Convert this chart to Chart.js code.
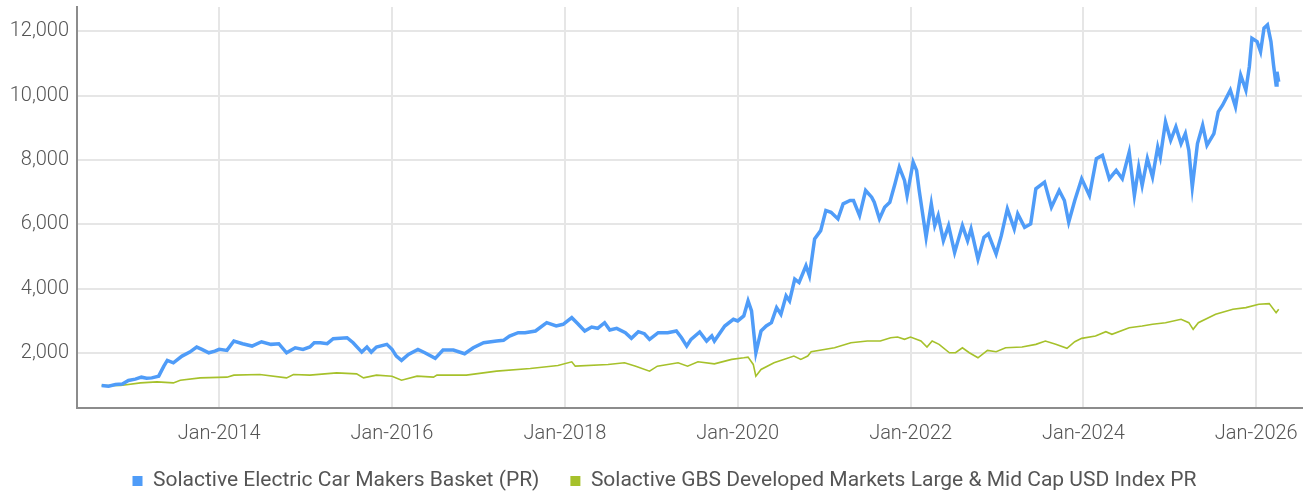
<!DOCTYPE html>
<html>
<head>
<meta charset="utf-8">
<script src="https://cdn.jsdelivr.net/npm/chart.js@4.4.1/dist/chart.umd.min.js"></script>
<style>
  html, body { margin: 0; padding: 0; background: #fff; }
  #wrap { width: 1312px; height: 493px; }
</style>
</head>
<body>
<div id="wrap"><canvas id="chart"></canvas></div>
<script>
// Solactive Electric Car Makers Basket (PR), decimal years
const evYears = [
  2012.64, 2012.72, 2012.80, 2012.88, 2012.95, 2013.03, 2013.10, 2013.16, 2013.22, 2013.30,
  2013.36, 2013.40, 2013.47, 2013.57, 2013.66, 2013.74, 2013.80, 2013.88, 2013.95, 2014.00,
  2014.09, 2014.17, 2014.27, 2014.38, 2014.49, 2014.60, 2014.69, 2014.78, 2014.88, 2014.97,
  2015.05, 2015.10, 2015.17, 2015.25, 2015.32, 2015.48, 2015.55, 2015.65, 2015.71, 2015.76,
  2015.82, 2015.94, 2016.00, 2016.05, 2016.11, 2016.19, 2016.30, 2016.38, 2016.50, 2016.59,
  2016.71, 2016.84, 2016.94, 2017.06, 2017.21, 2017.29, 2017.36, 2017.46, 2017.54, 2017.66,
  2017.79, 2017.90, 2017.98, 2018.08, 2018.15, 2018.23, 2018.31, 2018.38, 2018.46, 2018.52,
  2018.60, 2018.70, 2018.77, 2018.85, 2018.92, 2018.98, 2019.08, 2019.19, 2019.29, 2019.35,
  2019.41, 2019.46, 2019.56, 2019.64, 2019.70, 2019.73, 2019.85, 2019.95, 2020.00, 2020.07,
  2020.12, 2020.16, 2020.21, 2020.27, 2020.33, 2020.39, 2020.45, 2020.50, 2020.56, 2020.60,
  2020.66, 2020.71, 2020.79, 2020.83, 2020.89, 2020.96, 2021.02, 2021.08, 2021.16, 2021.22,
  2021.30, 2021.34, 2021.41, 2021.48, 2021.55, 2021.58, 2021.64, 2021.70, 2021.76, 2021.82,
  2021.87, 2021.93, 2021.96, 2022.03, 2022.07, 2022.10, 2022.18, 2022.24, 2022.28, 2022.32,
  2022.38, 2022.44, 2022.51, 2022.60, 2022.66, 2022.70, 2022.78, 2022.85, 2022.90, 2022.99,
  2023.05, 2023.12, 2023.20, 2023.24, 2023.32, 2023.39, 2023.45, 2023.55, 2023.63, 2023.72,
  2023.78, 2023.83, 2023.90, 2023.98, 2024.07, 2024.15, 2024.22, 2024.30, 2024.38, 2024.45,
  2024.53, 2024.59, 2024.64, 2024.68, 2024.74, 2024.80, 2024.86, 2024.89, 2024.95, 2025.01,
  2025.07, 2025.13, 2025.18, 2025.22, 2025.26, 2025.32, 2025.38, 2025.43, 2025.51, 2025.56,
  2025.61, 2025.65, 2025.70, 2025.76, 2025.82, 2025.88, 2025.92, 2025.95, 2026.01, 2026.05,
  2026.09, 2026.13, 2026.17, 2026.20, 2026.23, 2026.24, 2026.26
];
const evValues = [
  1000, 980, 1035, 1050, 1160, 1200, 1262, 1230, 1240, 1293,
  1604, 1782, 1708, 1916, 2040, 2196, 2125, 2019, 2070, 2125,
  2093, 2383, 2300, 2227, 2361, 2280, 2300, 2019, 2174, 2125,
  2200, 2330, 2330, 2300, 2455, 2486, 2330, 2040, 2196, 2040,
  2196, 2280, 2125, 1916, 1782, 1969, 2125, 2019, 1844, 2103,
  2103, 1988, 2174, 2330, 2383, 2405, 2539, 2642, 2642, 2695,
  2953, 2850, 2903, 3109, 2922, 2695, 2819, 2778, 2953, 2726,
  2778, 2642, 2467, 2673, 2611, 2436, 2642, 2642, 2695, 2486,
  2227, 2436, 2663, 2383, 2539, 2383, 2850, 3059, 3006, 3162,
  3629, 3318, 2019, 2695, 2850, 2953, 3420, 3215, 3785, 3629,
  4305, 4199, 4719, 4408, 5551, 5810, 6433, 6380, 6174, 6641,
  6744, 6744, 6277, 7056, 6847, 6691, 6174, 6535, 6691, 7264,
  7782, 7367, 6900, 7937, 7678, 7056, 5601, 6640, 5965, 6277,
  5498, 5965, 5134, 5965, 5498, 5862, 4928, 5601, 5707, 5083,
  5654, 6486, 5862, 6330, 5912, 6018, 7109, 7314, 6535, 7056,
  6744, 6068, 6744, 7420, 6900, 8044, 8146, 7420, 7678, 7420,
  8248, 6900, 7782, 7211, 8044, 7470, 8404, 8092, 9183, 8613,
  9028, 8510, 8821, 8302, 7158, 8510, 9080, 8458, 8821, 9495,
  9703, 9911, 10171, 9651, 10638, 10171, 10896, 11781, 11676, 11364,
  12093, 12196, 11676, 10949, 10326, 10741, 10430
];

// Solactive GBS Developed Markets Large & Mid Cap USD Index PR
const gbsYears = [
  2012.64, 2012.86, 2013.09, 2013.28, 2013.47, 2013.55, 2013.78, 2014.09, 2014.17, 2014.47,
  2014.78, 2014.86, 2015.05, 2015.36, 2015.59, 2015.67, 2015.82, 2016.00, 2016.11, 2016.29,
  2016.48, 2016.52, 2016.86, 2017.21, 2017.60, 2017.92, 2018.08, 2018.12, 2018.50, 2018.69,
  2018.82, 2018.98, 2019.07, 2019.31, 2019.42, 2019.54, 2019.73, 2019.93, 2020.07, 2020.12,
  2020.18, 2020.21, 2020.27, 2020.42, 2020.65, 2020.73, 2020.81, 2020.85, 2021.12, 2021.31,
  2021.50, 2021.65, 2021.77, 2021.85, 2021.93, 2022.00, 2022.12, 2022.19, 2022.25, 2022.33,
  2022.45, 2022.52, 2022.60, 2022.68, 2022.78, 2022.89, 2022.99, 2023.10, 2023.29, 2023.45,
  2023.56, 2023.68, 2023.81, 2023.90, 2023.98, 2024.14, 2024.26, 2024.33, 2024.53, 2024.68,
  2024.80, 2024.95, 2025.13, 2025.22, 2025.27, 2025.33, 2025.53, 2025.73, 2025.88, 2026.03,
  2026.15, 2026.23, 2026.26
];
const gbsValues = [
  1000, 1003, 1084, 1115, 1084, 1168, 1240, 1262, 1324, 1346,
  1240, 1346, 1324, 1396, 1365, 1240, 1324, 1293, 1168, 1293,
  1262, 1324, 1324, 1449, 1533, 1626, 1738, 1604, 1657, 1708,
  1604, 1449, 1604, 1708, 1604, 1738, 1676, 1813, 1863, 1885,
  1657, 1293, 1502, 1708, 1916, 1813, 1916, 2050, 2174, 2330,
  2383, 2383, 2486, 2508, 2436, 2508, 2383, 2196, 2383, 2280,
  2019, 2019, 2174, 2019, 1863, 2093, 2050, 2174, 2196, 2280,
  2383, 2280, 2156, 2361, 2467, 2539, 2673, 2592, 2797, 2850,
  2903, 2953, 3059, 2953, 2747, 2953, 3215, 3371, 3420, 3526,
  3545, 3265, 3371
];

const xTickYears = [2014, 2016, 2018, 2020, 2022, 2024, 2026];
const xTickLabels = ['Jan-2014', 'Jan-2016', 'Jan-2018', 'Jan-2020', 'Jan-2022', 'Jan-2024', 'Jan-2026'];
const yTickValues = [2000, 4000, 6000, 8000, 10000, 12000];

const toPoints = (xs, ys) => xs.map((x, i) => ({ x: x, y: ys[i] }));

const blue = '#4f9cf8';
const green = '#a6c12b';
const textColor = '#555555';
const fontFamily = 'Roboto, "Noto Sans", sans-serif';

// the legend in the picture sits a little right of the page centre
const legendShift = {
    id: 'legendShift',
    afterLayout: (chart) => {
        chart.legend.left += 13;
        chart.legend.right += 13;
    }
};

const ctx = document.querySelector('#chart').getContext('2d');

new Chart(ctx, {
    type: 'line',
    data: {
        datasets: [
            {
                label: 'Solactive Electric Car Makers Basket (PR)',
                data: toPoints(evYears, evValues),
                borderColor: blue,
                backgroundColor: blue,
                borderWidth: 3.5,
                pointRadius: 0,
                tension: 0
            },
            {
                label: 'Solactive GBS Developed Markets Large & Mid Cap USD Index PR',
                data: toPoints(gbsYears, gbsValues),
                borderColor: green,
                backgroundColor: green,
                borderWidth: 1.6,
                pointRadius: 0,
                tension: 0
            }
        ]
    },
    plugins: [legendShift],
    options: {
        responsive: true,
        maintainAspectRatio: false,
        animation: false,
        layout: { padding: { top: 7, right: 9, left: 0, bottom: -8.5 } },
        plugins: {
            tooltip: { enabled: false },
            legend: {
                position: 'bottom',
                labels: {
                    boxWidth: 10,
                    boxHeight: 10,
                    padding: 31,
                    color: textColor,
                    font: { family: fontFamily, size: 21 },
                    generateLabels: (chart) =>
                        Chart.defaults.plugins.legend.labels.generateLabels(chart)
                            .map(l => Object.assign(l, { lineWidth: 0 }))
                }
            }
        },
        scales: {
            x: {
                type: 'linear',
                min: 2012.355,
                max: 2026.528,
                afterBuildTicks: (scale) => { scale.ticks = xTickYears.map(v => ({ value: v })); },
                afterFit: (scale) => { scale.height = 31.5; },
                ticks: {
                    color: textColor,
                    font: { family: fontFamily, size: 20, weight: 300 },
                    padding: 14,
                    maxRotation: 0,
                    callback: (v) => xTickLabels[xTickYears.indexOf(v)]
                },
                grid: { color: '#e6e6e6', lineWidth: 2, drawTicks: false },
                border: { color: '#8c8c8c', width: 2 }
            },
            y: {
                min: 305,
                max: 12750,
                afterBuildTicks: (scale) => { scale.ticks = yTickValues.map(v => ({ value: v })); },
                afterFit: (scale) => {
                    scale.width = 77;
                    scale.paddingTop = 0;
                    scale.paddingBottom = 0;
                },
                ticks: {
                    color: textColor,
                    font: { family: fontFamily, size: 20, weight: 300 },
                    padding: 8,
                    callback: (v) => v.toLocaleString('en-US')
                },
                grid: { color: '#e6e6e6', lineWidth: 2, drawTicks: false },
                border: { color: '#8c8c8c', width: 2 }
            }
        }
    }
});
</script>
</body>
</html>
